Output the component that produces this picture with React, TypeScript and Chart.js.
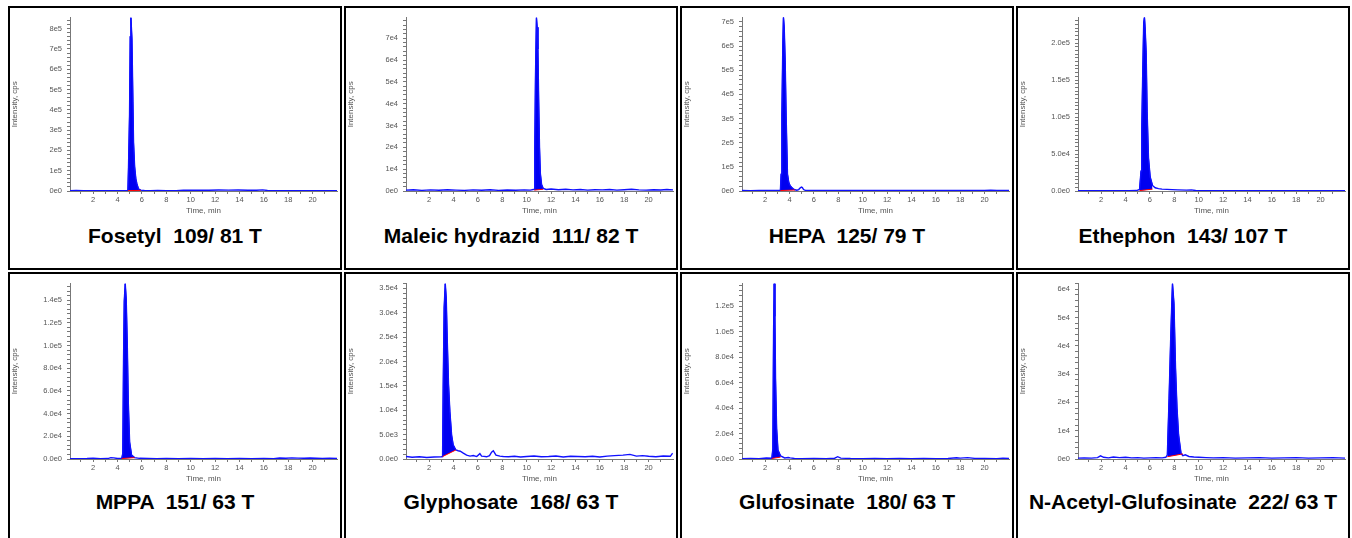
import React, { useEffect, useRef } from "react";
import { Chart, registerables } from "chart.js";

Chart.register(...registerables);
Chart.defaults.font.family = '"Liberation Sans", Arial, sans-serif';

// ---------- shared axis ticks ----------
const xMinorTicks = [1, 2, 3, 4, 5, 6, 7, 8, 9, 10, 11, 12, 13, 14, 15, 16, 17, 18, 19, 20, 21];
const xTickValues = [2, 4, 6, 8, 10, 12, 14, 16, 18, 20];
const xTickLabels = ["2", "4", "6", "8", "10", "12", "14", "16", "18", "20"];

// ---------- Fosetyl 109/81 ----------
const fosetylTime = [0.1, 0.6, 1.2, 1.9, 2.6, 3.3, 4.0, 4.5, 4.85, 4.9, 4.985, 5.04, 5.095, 5.18, 5.26, 5.31, 5.4, 5.5, 5.59, 5.72, 5.9, 6.2, 6.7, 7.3, 8.0, 8.8, 9.4, 10.0, 10.7, 11.5, 12.3, 13.1, 13.9, 14.7, 15.4, 15.9, 16.3, 16.8, 17.5, 18.3, 19.1, 19.9, 20.7, 21.4, 22.0];
const fosetylIntensity = [1500, 2500, 1200, 1800, 1000, 1600, 1200, 2000, 3000, 120000, 380000, 760000, 855000, 750000, 440000, 240000, 120000, 60000, 35000, 10000, 4000, 2500, 1500, 3000, 1200, 2000, 4000, 3500, 4500, 4000, 5000, 4500, 5000, 4000, 3500, 5500, 2500, 1500, 1200, 1000, 1500, 1000, 1200, 1500, 1000];
const fosetylYTicks = [0, 1e5, 2e5, 3e5, 4e5, 5e5, 6e5, 7e5, 8e5];
const fosetylYLabels = ["0e0", "1e5", "2e5", "3e5", "4e5", "5e5", "6e5", "7e5", "8e5"];

// ---------- Maleic hydrazid 111/82 ----------
const maleicTime = [0.1, 0.7, 1.4, 2.1, 2.8, 3.5, 4.2, 4.9, 5.6, 6.3, 7.0, 7.7, 8.4, 9.1, 9.8, 10.3, 10.62, 10.66, 10.72, 10.8, 10.86, 10.92, 10.98, 11.05, 11.12, 11.22, 11.35, 11.6, 12.0, 12.6, 13.2, 13.8, 14.4, 15.0, 15.6, 16.2, 16.8, 17.4, 18.0, 18.6, 19.2, 19.8, 20.4, 21.0, 21.5, 22.0];
const maleicIntensity = [400, 600, 300, 500, 350, 550, 400, 300, 500, 350, 600, 300, 450, 350, 500, 400, 800, 18000, 52000, 79500, 75000, 65000, 42000, 20000, 8000, 3000, 1200, 700, 900, 600, 800, 500, 700, 400, 600, 500, 700, 400, 600, 800, 500, 400, 600, 450, 700, 500];
const maleicYTicks = [0, 1e4, 2e4, 3e4, 4e4, 5e4, 6e4, 7e4];
const maleicYLabels = ["0e0", "1e4", "2e4", "3e4", "4e4", "5e4", "6e4", "7e4"];

// ---------- HEPA 125/79 ----------
const hepaTime = [0.1, 0.8, 1.5, 2.2, 2.9, 3.25, 3.31, 3.37, 3.45, 3.5, 3.56, 3.64, 3.72, 3.83, 3.94, 4.05, 4.18, 4.3, 4.45, 4.6, 4.75, 4.88, 4.98, 5.05, 5.15, 5.3, 5.6, 6.2, 7.0, 8.0, 9.0, 10.0, 11.0, 12.0, 13.0, 14.0, 15.0, 16.0, 17.0, 18.0, 19.0, 20.0, 20.5, 21.0, 22.0];
const hepaIntensity = [2000, 1500, 2500, 1800, 2200, 3000, 70000, 310000, 610000, 720000, 680000, 540000, 310000, 70000, 35000, 22000, 15000, 9000, 5000, 3000, 6000, 13000, 16000, 14000, 6000, 2500, 2000, 2200, 1800, 2000, 2200, 1800, 2000, 2200, 1800, 2000, 2200, 1800, 2000, 2200, 1800, 2000, 3500, 2000, 2200];
const hepaYTicks = [0, 1e5, 2e5, 3e5, 4e5, 5e5, 6e5, 7e5];
const hepaYLabels = ["0e0", "1e5", "2e5", "3e5", "4e5", "5e5", "6e5", "7e5"];

// ---------- Ethephon 143/107 ----------
const ethephonTime = [0.1, 0.8, 1.5, 2.2, 2.9, 3.6, 4.3, 4.9, 5.15, 5.27, 5.33, 5.41, 5.49, 5.55, 5.6, 5.69, 5.77, 5.88, 6.02, 6.21, 6.43, 6.7, 6.99, 7.4, 7.82, 8.3, 9.0, 9.4, 9.75, 10.3, 11.0, 12.0, 13.0, 14.0, 15.0, 16.0, 17.0, 18.0, 19.0, 20.0, 21.0, 22.0];
const ethephonIntensity = [300, 500, 300, 400, 300, 500, 300, 600, 2000, 27000, 83000, 160000, 227000, 235000, 222000, 187000, 107000, 45000, 19000, 7500, 4400, 3200, 2600, 2200, 1800, 1500, 1200, 1500, 600, 400, 300, 400, 300, 400, 300, 400, 300, 400, 300, 400, 300, 400];
const ethephonYTicks = [0, 5e4, 1e5, 1.5e5, 2e5];
const ethephonYLabels = ["0.0e0", "5.0e4", "1.0e5", "1.5e5", "2.0e5"];

// ---------- MPPA 151/63 ----------
const mppaTime = [0.1, 0.8, 1.5, 2.0, 2.6, 3.2, 3.45, 3.7, 4.0, 4.35, 4.43, 4.49, 4.55, 4.63, 4.71, 4.8, 4.88, 4.99, 5.15, 5.4, 5.8, 6.5, 7.2, 8.0, 9.0, 10.0, 11.0, 12.0, 13.0, 14.0, 15.0, 16.0, 16.8, 17.3, 17.8, 18.3, 18.8, 19.3, 19.8, 20.3, 20.8, 21.4, 22.0];
const mppaIntensity = [300, 200, 400, 800, 300, 400, 1200, 1000, 400, 600, 5000, 86000, 139000, 154700, 141000, 100000, 50000, 15000, 3500, 1200, 600, 400, 300, 400, 300, 400, 300, 400, 300, 400, 300, 400, 300, 900, 700, 1000, 800, 600, 900, 700, 500, 600, 400];
const mppaYTicks = [0, 2e4, 4e4, 6e4, 8e4, 1e5, 1.2e5, 1.4e5];
const mppaYLabels = ["0.0e0", "2.0e4", "4.0e4", "6.0e4", "8.0e4", "1.0e5", "1.2e5", "1.4e5"];

// ---------- Glyphosate 168/63 ----------
const glyphosateTime = [0.1, 0.6, 1.2, 1.8, 2.4, 3.0, 3.1, 3.15, 3.23, 3.32, 3.4, 3.48, 3.59, 3.7, 3.84, 3.97, 4.19, 4.38, 4.55, 4.8, 5.07, 5.35, 5.62, 5.9, 6.16, 6.3, 6.5, 6.71, 6.95, 7.12, 7.26, 7.38, 7.48, 7.8, 8.08, 8.5, 9.0, 9.5, 10.0, 10.6, 11.2, 11.8, 12.4, 13.0, 13.6, 14.2, 14.8, 15.4, 16.0, 16.6, 17.2, 17.9, 18.47, 19.0, 19.5, 20.0, 20.6, 21.2, 21.78, 21.97];
const glyphosateIntensity = [500, 350, 450, 300, 400, 450, 500, 14500, 31000, 36000, 33000, 24700, 15200, 9700, 4900, 2900, 1850, 1700, 1600, 1200, 800, 600, 700, 500, 1100, 600, 550, 450, 700, 1400, 1700, 1200, 800, 600, 500, 450, 550, 400, 500, 600, 450, 500, 600, 400, 550, 500, 450, 550, 400, 600, 700, 800, 950, 600, 700, 550, 450, 600, 550, 1200];
const glyphosateYTicks = [0, 5e3, 1e4, 1.5e4, 2e4, 2.5e4, 3e4, 3.5e4];
const glyphosateYLabels = ["0.0e0", "5.0e3", "1.0e4", "1.5e4", "2.0e4", "2.5e4", "3.0e4", "3.5e4"];

// ---------- Glufosinate 180/63 ----------
const glufosinateTime = [0.1, 0.8, 1.5, 2.1, 2.55, 2.63, 2.69, 2.74, 2.8, 2.85, 2.94, 3.05, 3.27, 3.6, 3.9, 4.05, 4.4, 5.0, 6.0, 7.0, 7.7, 7.95, 8.2, 9.0, 10.0, 11.0, 12.0, 13.0, 14.0, 15.0, 16.0, 17.0, 17.7, 18.0, 18.6, 19.2, 20.0, 21.0, 21.5, 22.0];
const glufosinateIntensity = [300, 400, 300, 800, 600, 8000, 100000, 137800, 112000, 63000, 24000, 7000, 2400, 800, 1200, 900, 400, 300, 400, 300, 600, 1800, 700, 400, 300, 400, 300, 400, 300, 400, 300, 400, 1000, 700, 1100, 500, 400, 300, 700, 400];
const glufosinateYTicks = [0, 2e4, 4e4, 6e4, 8e4, 1e5, 1.2e5];
const glufosinateYLabels = ["0.0e0", "2.0e4", "4.0e4", "6.0e4", "8.0e4", "1.0e5", "1.2e5"];

// ---------- N-Acetyl-Glufosinate 222/63 ----------
const nacetylTime = [0.1, 0.6, 1.2, 1.7, 1.95, 2.2, 2.6, 3.0, 3.5, 4.0, 4.5, 5.0, 5.5, 6.0, 6.5, 7.0, 7.3, 7.43, 7.57, 7.7, 7.8, 7.85, 7.97, 8.1, 8.22, 8.35, 8.55, 8.7, 8.9, 9.2, 9.6, 10.0, 10.6, 11.2, 12.0, 13.0, 14.0, 15.0, 16.0, 17.0, 18.0, 19.0, 20.0, 21.0, 22.0];
const nacetylIntensity = [300, 400, 300, 500, 1100, 600, 400, 700, 500, 600, 400, 500, 300, 400, 500, 400, 600, 1500, 21400, 42000, 56000, 62000, 55000, 32000, 18000, 8500, 2000, 1200, 1500, 900, 700, 600, 500, 400, 500, 300, 400, 500, 300, 400, 500, 300, 400, 500, 300];
const nacetylYTicks = [0, 1e4, 2e4, 3e4, 4e4, 5e4, 6e4];
const nacetylYLabels = ["0e0", "1e4", "2e4", "3e4", "4e4", "5e4", "6e4"];

type PanelDef = {
  title: string;
  time: number[];
  intensity: number[];
  yMax: number;
  yTicks: number[];
  yLabels: string[];
  yMinorStep: number;
  peak: [number, number];
  base: [number, number];
};

const panels: PanelDef[] = [
  { title: "Fosetyl  109/ 81 T", time: fosetylTime, intensity: fosetylIntensity, yMax: 855000, yTicks: fosetylYTicks, yLabels: fosetylYLabels, yMinorStep: 2e4, peak: [4.85, 5.9], base: [2000, 3000] },
  { title: "Maleic hydrazid  111/ 82 T", time: maleicTime, intensity: maleicIntensity, yMax: 79500, yTicks: maleicYTicks, yLabels: maleicYLabels, yMinorStep: 2e3, peak: [10.62, 11.35], base: [400, 800] },
  { title: "HEPA  125/ 79 T", time: hepaTime, intensity: hepaIntensity, yMax: 718000, yTicks: hepaYTicks, yLabels: hepaYLabels, yMinorStep: 2e4, peak: [3.25, 4.45], base: [2000, 4000] },
  { title: "Ethephon  143/ 107 T", time: ethephonTime, intensity: ethephonIntensity, yMax: 234500, yTicks: ethephonYTicks, yLabels: ethephonYLabels, yMinorStep: 5e3, peak: [5.15, 6.21], base: [500, 2500] },
  { title: "MPPA  151/ 63 T", time: mppaTime, intensity: mppaIntensity, yMax: 154700, yTicks: mppaYTicks, yLabels: mppaYLabels, yMinorStep: 4e3, peak: [4.35, 5.4], base: [400, 1200] },
  { title: "Glyphosate  168/ 63 T", time: glyphosateTime, intensity: glyphosateIntensity, yMax: 36000, yTicks: glyphosateYTicks, yLabels: glyphosateYLabels, yMinorStep: 1e3, peak: [3.1, 4.19], base: [500, 1850] },
  { title: "Glufosinate  180/ 63 T", time: glufosinateTime, intensity: glufosinateIntensity, yMax: 137800, yTicks: glufosinateYTicks, yLabels: glufosinateYLabels, yMinorStep: 4e3, peak: [2.55, 3.27], base: [400, 1500] },
  { title: "N-Acetyl-Glufosinate  222/ 63 T", time: nacetylTime, intensity: nacetylIntensity, yMax: 62000, yTicks: nacetylYTicks, yLabels: nacetylYLabels, yMinorStep: 2e3, peak: [7.43, 8.7], base: [800, 1800] },
];

const AXIS_TEXT = "#555";
const AXIS_LINE = "#777";
const PANEL_W = 334;
const CANVAS_W = 330;
const PLOT_H = 177;
const X_AXIS_H = 27;

function ChromPanel({ def, left, top, height, padTop }: { def: PanelDef; left: number; top: number; height: number; padTop: number }) {
  const ref = useRef<HTMLCanvasElement | null>(null);
  const canvasH = padTop + PLOT_H + X_AXIS_H;

  useEffect(() => {
    if (!ref.current) return;
    const trace = def.time.map((t, i) => ({ x: t, y: def.intensity[i] }));
    const peakPts = trace.filter((p) => p.x >= def.peak[0] && p.x <= def.peak[1]);
    const basePts = [
      { x: def.peak[0], y: def.base[0] },
      { x: def.peak[1], y: def.base[1] },
    ];
    const yTickVals: number[] = [];
    const nMinor = Math.floor(def.yMax / def.yMinorStep + 1e-9);
    for (let i = 0; i <= nMinor; i++) yTickVals.push(i * def.yMinorStep);
    def.yTicks.forEach((v) => {
      if (!yTickVals.some((w) => Math.abs(w - v) < 1e-6 * def.yMax)) yTickVals.push(v);
    });
    yTickVals.sort((a, b) => a - b);
    const yLabelFor = (v: number) => {
      const idx = def.yTicks.findIndex((w) => Math.abs(w - v) < 1e-6 * def.yMax);
      return idx >= 0 ? def.yLabels[idx] : "";
    };
    const xLabelFor = (v: number) => {
      const idx = xTickValues.findIndex((w) => Math.abs(w - v) < 1e-6);
      return idx >= 0 ? xTickLabels[idx] : "";
    };

    const chart = new Chart(ref.current, {
      type: "line",
      data: {
        datasets: [
          { data: basePts, borderColor: "#ff0000", borderWidth: 1, pointRadius: 0, fill: false, order: 0 } as any,
          { data: trace, borderColor: "#1010ff", borderWidth: 1.4, pointRadius: 0, fill: false, order: 1 } as any,
          { data: peakPts, borderColor: "#0000ff", borderWidth: 1, pointRadius: 0, backgroundColor: "#0000f0", fill: "-2", order: 2 } as any,
        ],
      },
      options: {
        animation: false,
        responsive: false,
        devicePixelRatio: 1,
        events: [],
        layout: { padding: { top: padTop, right: 3, left: 0, bottom: 0 } },
        plugins: { legend: { display: false }, tooltip: { enabled: false }, title: { display: false } },
        elements: { line: { tension: 0 } },
        scales: {
          x: {
            type: "linear",
            min: 0.1,
            max: 22,
            afterBuildTicks: (s: any) => {
              s.ticks = xMinorTicks.map((v) => ({ value: v }));
            },
            afterFit: (s: any) => {
              s.height = X_AXIS_H;
            },
            ticks: {
              autoSkip: false,
              maxRotation: 0,
              padding: 1,
              color: AXIS_TEXT,
              font: { size: 7.5 },
              callback: (v: any) => xLabelFor(Number(v)),
            },
            grid: { drawOnChartArea: false, drawTicks: true, tickLength: 3, tickColor: AXIS_LINE },
            border: { display: true, color: AXIS_LINE, width: 1 },
            title: { display: true, text: "Time, min", color: AXIS_TEXT, font: { size: 8 }, padding: { top: 2, bottom: 2 } },
          },
          y: {
            type: "linear",
            min: 0,
            max: def.yMax,
            afterBuildTicks: (s: any) => {
              s.ticks = yTickVals.map((v) => ({ value: v }));
            },
            afterFit: (s: any) => {
              s.width = 60;
            },
            ticks: {
              autoSkip: false,
              padding: 5,
              color: AXIS_TEXT,
              font: { size: 7.5 },
              callback: (v: any) => yLabelFor(Number(v)),
            },
            grid: { drawOnChartArea: false, drawTicks: true, tickLength: 3, tickColor: AXIS_LINE },
            border: { display: true, color: AXIS_LINE, width: 1 },
            title: { display: true, text: "Intensity, cps", color: AXIS_TEXT, font: { size: 8 }, padding: 0 },
          },
        },
      },
    });
    return () => chart.destroy();
  }, [def, padTop]);

  return (
    <div
      style={{
        position: "absolute",
        left,
        top,
        width: PANEL_W,
        height,
        border: "2px solid #000",
        boxSizing: "border-box",
        background: "#fff",
        overflow: "hidden",
      }}
    >
      <canvas ref={ref} width={CANVAS_W} height={canvasH} style={{ position: "absolute", left: 0, top: 0, display: "block" }} />
      <div
        style={{
          position: "absolute",
          left: 0,
          width: CANVAS_W,
          top: 216,
          height: 24,
          lineHeight: "24px",
          textAlign: "center",
          whiteSpace: "pre",
          fontFamily: '"Liberation Sans", Arial, sans-serif',
          fontWeight: "bold",
          fontSize: 21,
          color: "#000",
        }}
      >
        {def.title}
      </div>
    </div>
  );
}

export default function App() {
  const colLefts = [8, 344, 680, 1016];
  return (
    <div style={{ position: "fixed", left: 0, top: 0, width: 1352, height: 538, overflow: "hidden", background: "#fff" }}>
      {panels.map((p, i) => {
        const row = Math.floor(i / 4);
        const col = i % 4;
        return (
          <ChromPanel
            key={p.title}
            def={p}
            left={colLefts[col]}
            top={row === 0 ? 6 : 272}
            height={row === 0 ? 264 : 272}
            padTop={row === 0 ? 6 : 8}
          />
        );
      })}
    </div>
  );
}
